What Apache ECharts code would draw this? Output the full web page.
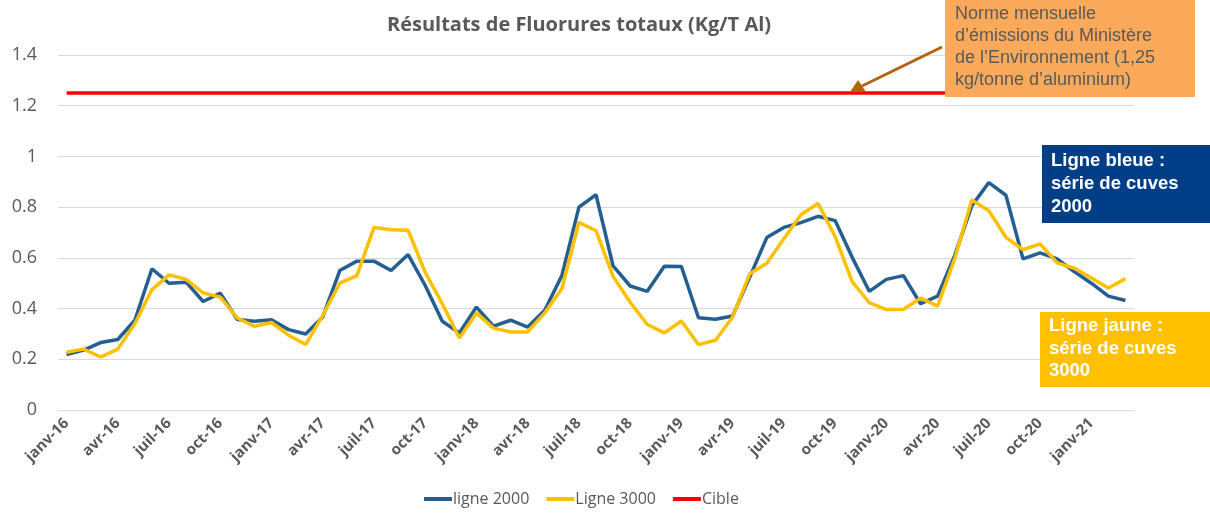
<!DOCTYPE html>
<html>
<head>
<meta charset="utf-8">
<script src="https://cdn.jsdelivr.net/npm/echarts@6/dist/echarts.min.js"></script>
<style>
html,body{margin:0;padding:0;background:#fff;}
#chart{width:1210px;height:513px;}
</style>
</head>
<body>
<div id="chart"></div>
<script>
var categories = [
 'janv-16','févr-16','mars-16','avr-16','mai-16','juin-16','juil-16','août-16','sept-16','oct-16','nov-16','déc-16',
 'janv-17','févr-17','mars-17','avr-17','mai-17','juin-17','juil-17','août-17','sept-17','oct-17','nov-17','déc-17',
 'janv-18','févr-18','mars-18','avr-18','mai-18','juin-18','juil-18','août-18','sept-18','oct-18','nov-18','déc-18',
 'janv-19','févr-19','mars-19','avr-19','mai-19','juin-19','juil-19','août-19','sept-19','oct-19','nov-19','déc-19',
 'janv-20','févr-20','mars-20','avr-20','mai-20','juin-20','juil-20','août-20','sept-20','oct-20','nov-20','déc-20',
 'janv-21','févr-21','mars-21'
];
var ligne2000 = [
 0.219,0.236,0.266,0.278,0.354,0.557,0.500,0.504,0.428,0.461,0.357,0.350,
 0.356,0.317,0.300,0.367,0.550,0.587,0.587,0.550,0.613,0.491,0.350,0.304,
 0.406,0.331,0.354,0.327,0.393,0.530,0.800,0.849,0.568,0.489,0.468,0.567,
 0.566,0.364,0.358,0.371,0.524,0.680,0.720,0.739,0.764,0.747,0.602,0.468,
 0.515,0.530,0.419,0.449,0.609,0.805,0.897,0.847,0.596,0.620,0.596,0.546,
 0.500,0.449,0.432
];
var ligne3000 = [
 0.228,0.240,0.209,0.240,0.340,0.475,0.533,0.515,0.462,0.445,0.363,0.330,
 0.345,0.295,0.258,0.373,0.500,0.530,0.720,0.711,0.709,0.543,0.419,0.284,
 0.382,0.323,0.308,0.308,0.383,0.478,0.740,0.707,0.527,0.425,0.337,0.304,
 0.351,0.258,0.275,0.367,0.537,0.579,0.675,0.770,0.815,0.684,0.506,0.423,
 0.396,0.397,0.441,0.410,0.596,0.828,0.786,0.681,0.632,0.655,0.580,0.559,
 0.521,0.481,0.518
];
var cibleValue = 1.25;
var cible = categories.map(function(){ return cibleValue; });
var yTicks = { min: 0, max: 1.4, interval: 0.2 };

var chart = echarts.init(document.getElementById('chart'));
var grey = '#595959';
var font = 'Open Sans';
chart.setOption({
  animation: false,
  backgroundColor: '#ffffff',
  title: {
    text: 'Résultats de Fluorures totaux (Kg/T Al)',
    left: 574, top: 10, textAlign: 'center',
    textStyle: { fontFamily: font, fontWeight: 'bold', fontSize: 20, color: grey }
  },
  grid: { left: 58, right: 76, top: 55, bottom: 103, containLabel: false },
  legend: {
    bottom: 1, left: 419,
    icon: 'rect', itemWidth: 28, itemHeight: 4, itemGap: 17,
    textStyle: { fontFamily: font, fontSize: 16, color: grey, padding: [0, 0, 0, -4] },
    data: ['ligne 2000', 'Ligne 3000', 'Cible']
  },
  xAxis: {
    type: 'category', data: categories, boundaryGap: true,
    axisLine: { lineStyle: { color: '#D9D9D9', width: 1 } },
    axisTick: { interval: 2, length: 5, lineStyle: { color: '#D9D9D9' } },
    axisLabel: { interval: 2, rotate: 45, margin: 11, fontFamily: font, fontWeight: 'bold', fontSize: 15, color: grey }
  },
  yAxis: {
    type: 'value', min: yTicks.min, max: yTicks.max, interval: yTicks.interval,
    axisLine: { show: false }, axisTick: { show: false },
    splitLine: { lineStyle: { color: '#D9D9D9', width: 1 } },
    axisLabel: { margin: 21, fontFamily: font, fontSize: 18, color: grey }
  },
  series: [
    { name: 'ligne 2000', type: 'line', data: ligne2000, symbol: 'none',
      lineStyle: { color: '#255E91', width: 3.5 }, itemStyle: { color: '#255E91' } },
    { name: 'Ligne 3000', type: 'line', data: ligne3000, symbol: 'none',
      lineStyle: { color: '#FFC000', width: 3.5 }, itemStyle: { color: '#FFC000' } },
    { name: 'Cible', type: 'line', data: cible, symbol: 'none', z: 1,
      lineStyle: { color: '#FF0000', width: 3.5 }, itemStyle: { color: '#FF0000' } }
  ],
  graphic: [
    { type: 'line', z: 10, shape: { x1: 942, y1: 47, x2: 862, y2: 86 },
      style: { stroke: '#B3620F', lineWidth: 3 } },
    { type: 'polygon', z: 10, shape: { points: [[850, 92], [858, 80], [866, 92]] },
      style: { fill: '#B3620F' } },
    { type: 'rect', z: 20, shape: { x: 945, y: 0, width: 250, height: 97 },
      style: { fill: '#FBAA5C' } },
    { type: 'text', z: 21, left: 955, top: 3,
      style: { text: 'Norme mensuelle\nd\u2019émissions du Ministère\nde l\u2019Environnement (1,25\nkg/tonne d\u2019aluminium)',
        fontFamily: 'Liberation Sans', fontSize: 18, lineHeight: 22, fill: grey } },
    { type: 'rect', z: 20, shape: { x: 1042, y: 145, width: 168, height: 78 },
      style: { fill: '#003F87' } },
    { type: 'text', z: 21, left: 1051, top: 149,
      style: { text: 'Ligne bleue :\nsérie de cuves\n2000',
        fontFamily: 'Liberation Sans', fontWeight: 'bold', fontSize: 18.5, lineHeight: 23, fill: '#ffffff' } },
    { type: 'rect', z: 20, shape: { x: 1040, y: 312, width: 170, height: 75 },
      style: { fill: '#FFC000' } },
    { type: 'text', z: 21, left: 1049, top: 315,
      style: { text: 'Ligne jaune :\nsérie de cuves\n3000',
        fontFamily: 'Liberation Sans', fontWeight: 'bold', fontSize: 18.5, lineHeight: 22.5, fill: '#ffffff' } }
  ]
});
</script>
</body>
</html>
